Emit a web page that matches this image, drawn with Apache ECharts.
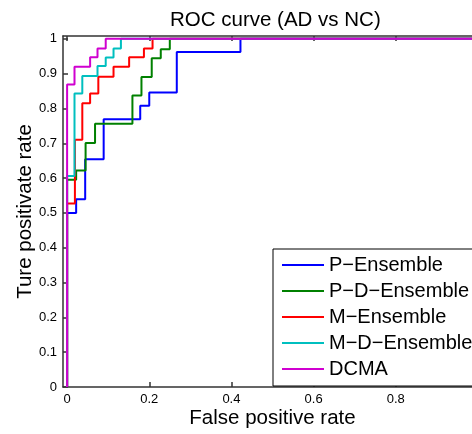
<!DOCTYPE html>
<html><head><meta charset="utf-8">
<script src="https://cdn.jsdelivr.net/npm/echarts@6/dist/echarts.min.js"></script>
<style>html,body{margin:0;padding:0;background:#fff;overflow:hidden;width:472px;height:434px}#c{width:500px;height:434px}</style>
</head><body><div id="c"></div>
<script>
// ROC step-curve vertices (false positive rate, true positive rate)
const seriesNames = ['P\u2212Ensemble', 'P\u2212D\u2212Ensemble', 'M\u2212Ensemble', 'M\u2212D\u2212Ensemble', 'DCMA'];
const seriesColors = ['#0000ff', '#008000', '#ff0000', '#00bfbf', '#d000d0'];

const pEnsembleFpr = [0, 0, 0.022, 0.022, 0.044, 0.044, 0.089, 0.089, 0.178, 0.178, 0.2, 0.2, 0.267, 0.267, 0.422, 0.422, 1];
const pEnsembleTpr = [0, 0.5, 0.5, 0.539, 0.539, 0.654, 0.654, 0.769, 0.769, 0.808, 0.808, 0.846, 0.846, 0.962, 0.962, 1, 1];

const pdEnsembleFpr = [0, 0, 0.022, 0.022, 0.045, 0.045, 0.068, 0.068, 0.159, 0.159, 0.181, 0.181, 0.206, 0.206, 0.228, 0.228, 0.25, 0.25, 1];
const pdEnsembleTpr = [0, 0.595, 0.595, 0.622, 0.622, 0.701, 0.701, 0.756, 0.756, 0.837, 0.837, 0.89, 0.89, 0.944, 0.944, 0.97, 0.97, 1, 1];

const mEnsembleFpr = [0, 0, 0.019, 0.019, 0.037, 0.037, 0.056, 0.056, 0.076, 0.076, 0.113, 0.113, 0.151, 0.151, 0.187, 0.187, 0.208, 0.208, 1];
const mEnsembleTpr = [0, 0.527, 0.527, 0.71, 0.71, 0.815, 0.815, 0.843, 0.843, 0.891, 0.891, 0.92, 0.92, 0.947, 0.947, 0.972, 0.972, 1, 1];

const mdEnsembleFpr = [0, 0, 0.018, 0.018, 0.037, 0.037, 0.074, 0.074, 0.094, 0.094, 0.113, 0.113, 0.131, 0.131, 1];
const mdEnsembleTpr = [0, 0.606, 0.606, 0.843, 0.843, 0.893, 0.893, 0.922, 0.922, 0.946, 0.946, 0.972, 0.972, 1, 1];

const dcmaFpr = [0, 0, 0.018, 0.018, 0.056, 0.056, 0.074, 0.074, 0.094, 0.094, 1];
const dcmaTpr = [0, 0.869, 0.869, 0.92, 0.92, 0.947, 0.947, 0.972, 0.972, 1, 1];

const xTicks = [0, 0.2, 0.4, 0.6, 0.8, 1];
const yTicks = [0, 0.1, 0.2, 0.3, 0.4, 0.5, 0.6, 0.7, 0.8, 0.9, 1];

const fprList = [pEnsembleFpr, pdEnsembleFpr, mEnsembleFpr, mdEnsembleFpr, dcmaFpr];
const tprList = [pEnsembleTpr, pdEnsembleTpr, mEnsembleTpr, mdEnsembleTpr, dcmaTpr];

const FONT = 'Liberation Sans, Arial, sans-serif';
const axisLineStyle = { color: '#333', width: 1.5 };

const chart = echarts.init(document.getElementById('c'), null, { renderer: 'canvas' });
chart.setOption({
  animation: false,
  backgroundColor: '#fff',
  title: {
    text: 'ROC curve (AD vs NC)',
    left: 165, top: 5,
    textStyle: { fontFamily: FONT, fontSize: 20.5, fontWeight: 'normal', color: '#000' }
  },
  grid: { left: 63, top: 36, width: 419, height: 353, containLabel: false },
  legend: {
    orient: 'vertical',
    left: 273, top: 249,
    padding: [6, 30, 7, 9],
    icon: 'rect',
    itemWidth: 42, itemHeight: 2, itemGap: 6,
    backgroundColor: '#fff', borderColor: '#000', borderWidth: 1, borderRadius: 0,
    textStyle: { fontFamily: FONT, fontSize: 20, color: '#000', lineHeight: 20 },
    data: seriesNames
  },
  xAxis: [{
    type: 'value', min: -0.01, max: 1.01,
    name: 'False positive rate', nameLocation: 'middle', nameGap: 21, nameMoveOverlap: false,
    nameTextStyle: { fontFamily: FONT, fontSize: 20.5, color: '#000' },
    axisLine: { onZero: false, lineStyle: axisLineStyle },
    axisTick: { inside: true, length: 5, customValues: xTicks, lineStyle: axisLineStyle },
    axisLabel: { customValues: xTicks, margin: 6, fontFamily: FONT, fontSize: 13, color: '#000' },
    splitLine: { show: false }
  }, {
    type: 'value', min: -0.01, max: 1.01, position: 'top',
    axisLine: { onZero: false, lineStyle: axisLineStyle },
    axisTick: { inside: true, length: 5, customValues: xTicks, lineStyle: axisLineStyle },
    axisLabel: { show: false },
    splitLine: { show: false }
  }],
  yAxis: [{
    type: 'value', min: 0, max: 1.008,
    name: 'Ture positivate rate', nameLocation: 'middle', nameGap: 27, nameRotate: 90, nameMoveOverlap: false,
    nameTextStyle: { fontFamily: FONT, fontSize: 20.5, color: '#000' },
    axisLine: { onZero: false, lineStyle: axisLineStyle },
    axisTick: { inside: true, length: 5, customValues: yTicks, lineStyle: axisLineStyle },
    axisLabel: { customValues: yTicks, margin: 6, fontFamily: FONT, fontSize: 13, color: '#000' },
    splitLine: { show: false }
  }, {
    type: 'value', min: 0, max: 1.008, position: 'right',
    axisLine: { onZero: false, lineStyle: axisLineStyle },
    axisTick: { inside: true, length: 5, customValues: yTicks, lineStyle: axisLineStyle },
    axisLabel: { show: false },
    splitLine: { show: false }
  }],
  series: seriesNames.map((name, i) => ({
    name: name,
    type: 'line',
    xAxisIndex: 0, yAxisIndex: 0,
    data: fprList[i].map((x, j) => [x, tprList[i][j]]),
    symbol: 'none', showSymbol: false,
    color: seriesColors[i],
    lineStyle: { color: seriesColors[i], width: 2 },
    itemStyle: { color: seriesColors[i] },
    z: 2 + i
  }))
});
</script>
</body></html>
